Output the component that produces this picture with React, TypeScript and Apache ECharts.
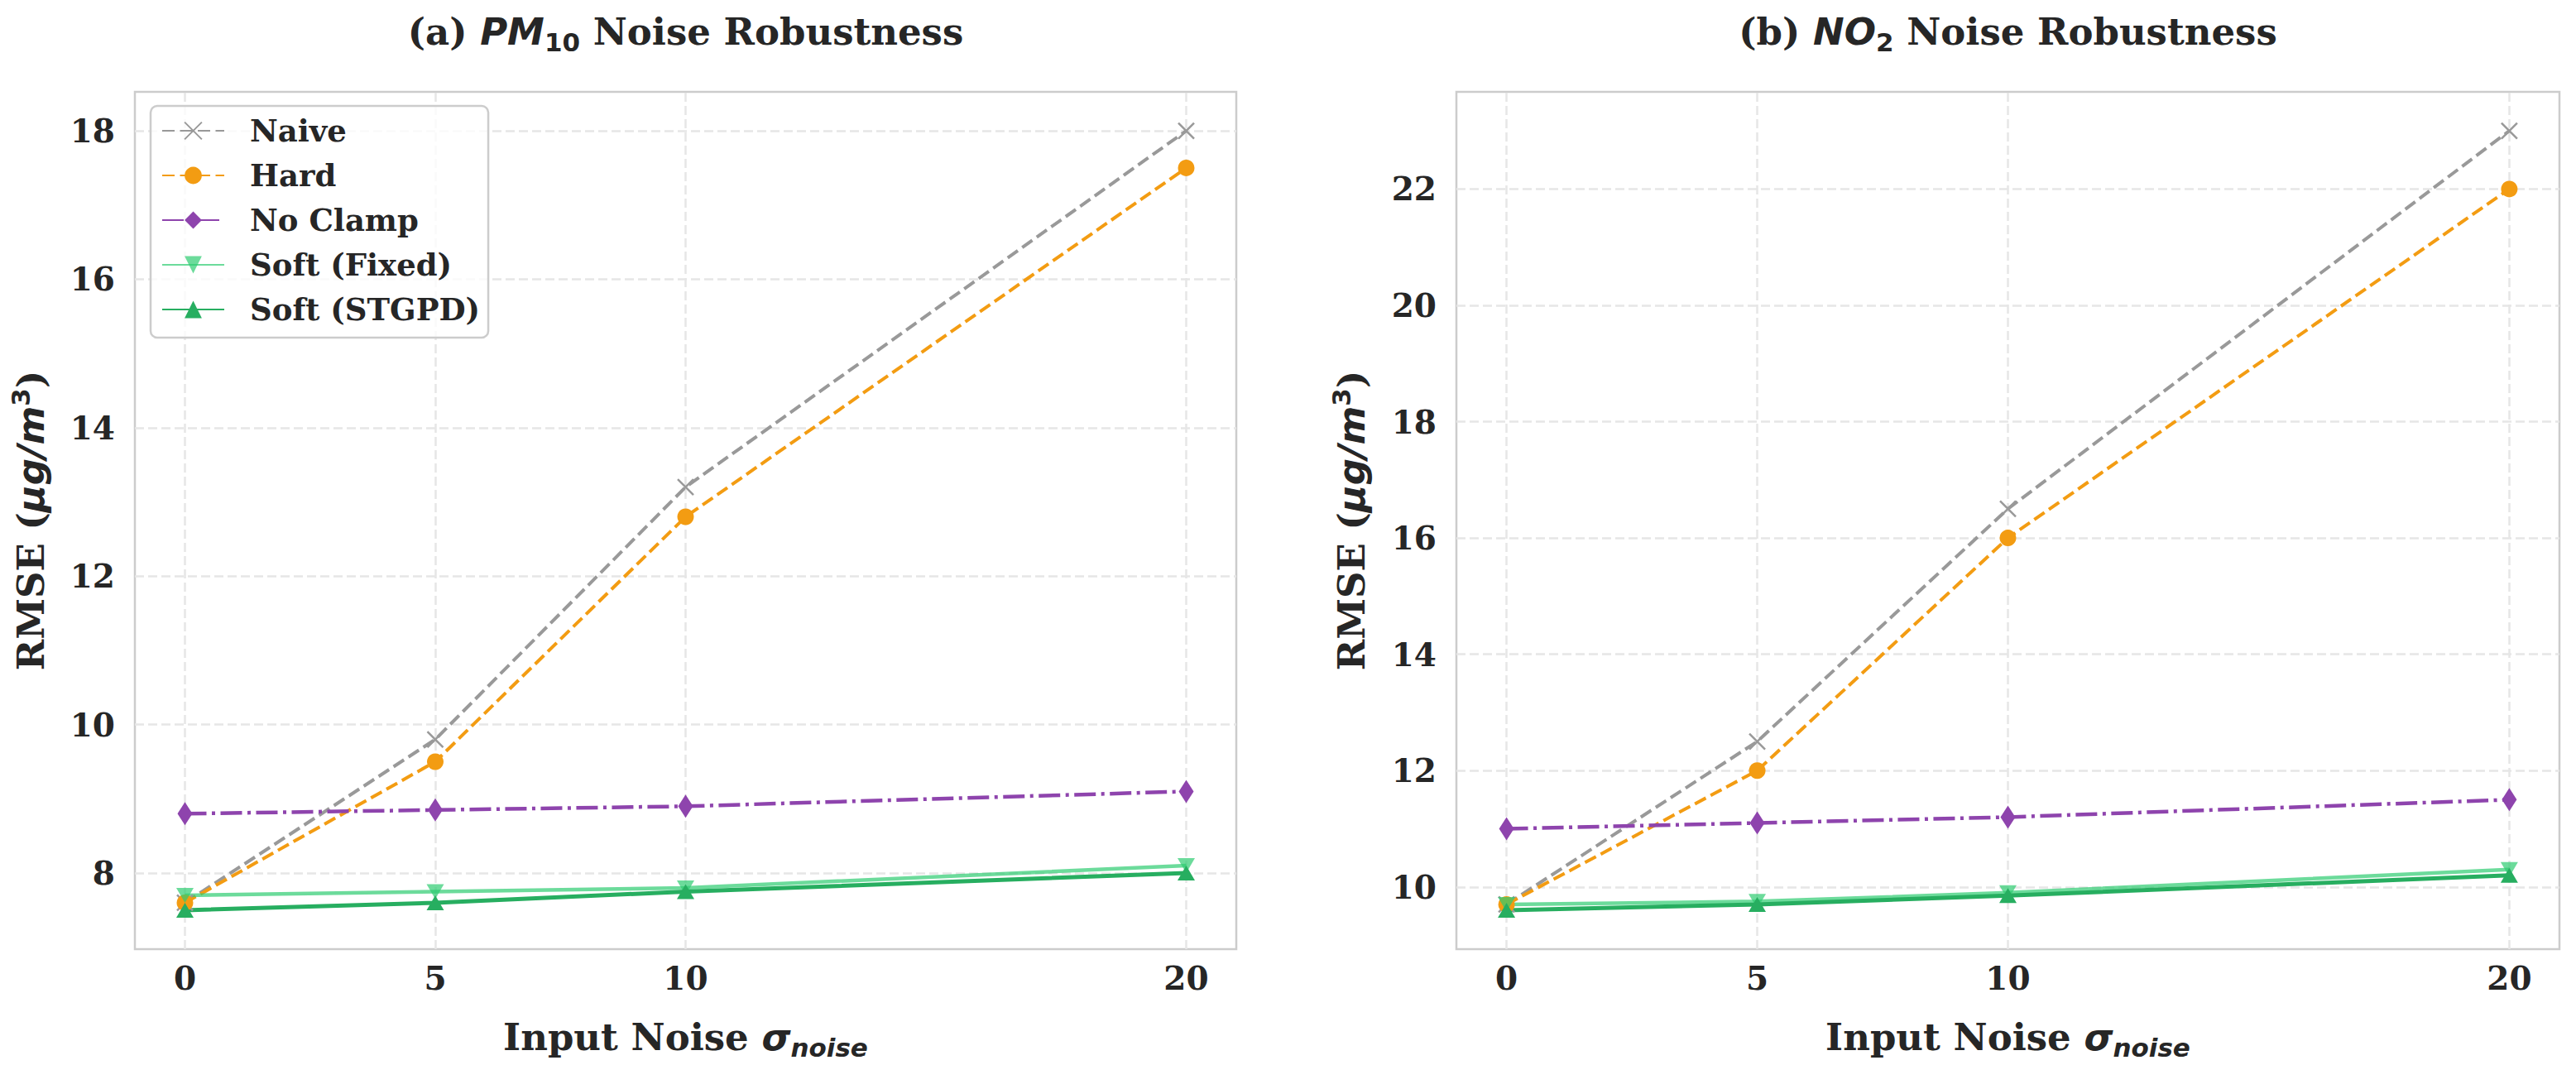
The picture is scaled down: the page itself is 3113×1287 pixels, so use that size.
import React, { useEffect, useRef } from 'react';
import * as echarts from 'echarts';

// ---------------- data ----------------
const noiseLevels = [0, 5, 10, 20];
const xTickValues = [0, 5, 10, 20];

const seriesNames = ['Naive', 'Hard', 'No Clamp', 'Soft (Fixed)', 'Soft (STGPD)'];

const pmNaive = [7.6, 9.8, 13.2, 18.0];
const pmHard = [7.6, 9.5, 12.8, 17.5];
const pmNoClamp = [8.8, 8.85, 8.9, 9.1];
const pmSoftFixed = [7.7, 7.75, 7.8, 8.1];
const pmSoftStgpd = [7.5, 7.6, 7.75, 8.0];
const pmYTicks = [8, 10, 12, 14, 16, 18];

const no2Naive = [9.7, 12.5, 16.5, 23.0];
const no2Hard = [9.7, 12.0, 16.0, 22.0];
const no2NoClamp = [11.0, 11.1, 11.2, 11.5];
const no2SoftFixed = [9.7, 9.75, 9.9, 10.3];
const no2SoftStgpd = [9.6, 9.7, 9.85, 10.2];
const no2YTicks = [10, 12, 14, 16, 18, 20, 22];

// ---------------- styles ----------------
const TEXT = '#262626';
const GRIDLINE = '#e6e6e6';
const SERIF = 'DejaVu Serif';
const SANS = 'DejaVu Sans';

const seriesStyles = [
  { color: '#999999', dash: [15, 6.5], width: 4, symbol: 'path://M0,0L10,10M10,0L0,10', size: 19, rotate: 0, opacity: 1, stroke: true },
  { color: '#f39c12', dash: [15, 6.5], width: 4, symbol: 'circle', size: 20, rotate: 0, opacity: 1, stroke: false },
  { color: '#8e44ad', dash: [26, 6.5, 4, 6.5], width: 4.5, symbol: 'diamond', size: [18, 28], rotate: 0, opacity: 1, stroke: false },
  { color: '#2ecc71', dash: 'solid', width: 4.5, symbol: 'triangle', size: [21, 18], rotate: 180, opacity: 0.7, stroke: false },
  { color: '#27ae60', dash: 'solid', width: 5, symbol: 'triangle', size: [21, 18], rotate: 0, opacity: 1, stroke: false },
];

function padRange(arrays: number[][]): [number, number] {
  const all = arrays.flat();
  const mn = Math.min(...all);
  const mx = Math.max(...all);
  const r = mx - mn;
  return [mn - 0.05 * r, mx + 0.05 * r];
}

function buildSeries(gridIndex: number, valueSets: number[][]) {
  return valueSets.map((vals, k) => {
    const st = seriesStyles[k];
    return {
      type: 'line',
      name: seriesNames[k],
      xAxisIndex: gridIndex,
      yAxisIndex: gridIndex,
      data: noiseLevels.map((x, i) => [x, vals[i]]),
      symbol: st.symbol,
      symbolSize: st.size,
      symbolRotate: st.rotate,
      showSymbol: true,
      z: 3,
      lineStyle: { color: st.color, width: st.width, type: st.dash, opacity: st.opacity, cap: 'butt' },
      itemStyle: st.stroke
        ? { color: st.color, borderColor: st.color, borderWidth: 2.5, opacity: st.opacity }
        : { color: st.color, borderWidth: 0, opacity: st.opacity },
      emphasis: { disabled: true },
      silent: true,
    };
  });
}

function gridLineSeries(gridIndex: number, yTicks: number[]) {
  return {
    type: 'line',
    name: 'grid' + gridIndex,
    xAxisIndex: gridIndex,
    yAxisIndex: gridIndex,
    data: [],
    z: 1,
    silent: true,
    markLine: {
      silent: true,
      z: 1,
      symbol: ['none', 'none'],
      label: { show: false },
      emphasis: { disabled: true },
      lineStyle: { color: GRIDLINE, width: 2.5, type: [11, 5] },
      data: [
        ...xTickValues.map((v) => ({ xAxis: v })),
        ...yTicks.map((v) => ({ yAxis: v })),
      ],
    },
  };
}

const tickLabel = {
  fontSize: 39,
  fontFamily: SERIF,
  fontWeight: 'bold',
  color: TEXT,
};

function makeXAxis(gridIndex: number) {
  return {
    type: 'value',
    gridIndex,
    min: -1,
    max: 21,
    axisLine: { show: false },
    axisTick: { show: false, customValues: xTickValues },
    splitLine: { show: false },
    axisLabel: { ...tickLabel, margin: 15, customValues: xTickValues },
  };
}

function makeYAxis(gridIndex: number, range: [number, number], ticks: number[]) {
  return {
    type: 'value',
    gridIndex,
    min: range[0],
    max: range[1],
    axisLine: { show: false },
    axisTick: { show: false, customValues: ticks },
    splitLine: { show: false },
    axisLabel: { ...tickLabel, margin: 24, customValues: ticks },
  };
}

const baseRich = {
  a: { fontFamily: SERIF, fontWeight: 'bold', fontSize: 45, fill: TEXT, lineHeight: 56 },
  m: { fontFamily: SANS, fontWeight: 'bold', fontStyle: 'italic', fontSize: 45, fill: TEXT, lineHeight: 56 },
  s: { fontFamily: SANS, fontWeight: 'bold', fontSize: 31, fill: TEXT, lineHeight: 36, verticalAlign: 'bottom' },
  si: { fontFamily: SANS, fontWeight: 'bold', fontStyle: 'italic', fontSize: 31, fill: TEXT, lineHeight: 36, verticalAlign: 'bottom' },
  p: { fontFamily: SANS, fontWeight: 'bold', fontSize: 31, fill: TEXT, lineHeight: 30, verticalAlign: 'top' },
};

function richText(text: string, x: number, y: number, rotation = 0) {
  return {
    type: 'text',
    x,
    y,
    rotation,
    silent: true,
    style: {
      text,
      rich: baseRich,
      align: 'center',
      verticalAlign: 'middle',
      fill: TEXT,
    },
  };
}

const GRID_TOP = 111;
const GRID_H = 1036;
const LEFT_GRID = { left: 163, width: 1331 };
const RIGHT_GRID = { left: 1760, width: 1333 };

export default function App() {
  const ref = useRef<HTMLDivElement>(null);

  useEffect(() => {
    if (!ref.current) return;
    const chart = echarts.init(ref.current, null, { renderer: 'svg', width: 3113, height: 1287 });

    const pmSets = [pmNaive, pmHard, pmNoClamp, pmSoftFixed, pmSoftStgpd];
    const no2Sets = [no2Naive, no2Hard, no2NoClamp, no2SoftFixed, no2SoftStgpd];

    const option = {
      animation: false,
      backgroundColor: '#ffffff',
      grid: [
        {
          left: LEFT_GRID.left, top: GRID_TOP, width: LEFT_GRID.width, height: GRID_H,
          show: true, borderColor: '#cccccc', borderWidth: 2.5, backgroundColor: 'transparent',
          containLabel: false, outerBoundsMode: 'none',
        },
        {
          left: RIGHT_GRID.left, top: GRID_TOP, width: RIGHT_GRID.width, height: GRID_H,
          show: true, borderColor: '#cccccc', borderWidth: 2.5, backgroundColor: 'transparent',
          containLabel: false, outerBoundsMode: 'none',
        },
      ],
      xAxis: [makeXAxis(0), makeXAxis(1)],
      yAxis: [
        makeYAxis(0, padRange(pmSets), pmYTicks),
        makeYAxis(1, padRange(no2Sets), no2YTicks),
      ],
      legend: {
        data: seriesNames,
        orient: 'vertical',
        left: 182,
        top: 128,
        itemWidth: 75,
        itemHeight: 26,
        itemGap: 10,
        padding: [8, 10, 12, 13],
        selectedMode: false,
        backgroundColor: 'rgba(255,255,255,0.8)',
        borderColor: '#cccccc',
        borderWidth: 2.5,
        borderRadius: 8,
        textStyle: {
          fontSize: 37,
          fontFamily: SERIF,
          fontWeight: 'bold',
          color: TEXT,
          lineHeight: 44,
          padding: [0, 0, 0, 26],
        },
      },
      graphic: [
        richText('{a|(a) }{m|PM}{s|10}{a| Noise Robustness}', LEFT_GRID.left + LEFT_GRID.width / 2, 38),
        richText('{a|(b) }{m|NO}{s|2}{a| Noise Robustness}', RIGHT_GRID.left + RIGHT_GRID.width / 2, 38),
        richText('{a|Input Noise }{m|σ}{si|noise}', LEFT_GRID.left + LEFT_GRID.width / 2, 1253),
        richText('{a|Input Noise }{m|σ}{si|noise}', RIGHT_GRID.left + RIGHT_GRID.width / 2, 1253),
        richText('{a|RMSE (}{m|μg/m}{p|3}{a|)}', 37, GRID_TOP + GRID_H / 2, Math.PI / 2),
        richText('{a|RMSE (}{m|μg/m}{p|3}{a|)}', 1633, GRID_TOP + GRID_H / 2, Math.PI / 2),
      ],
      series: [
        gridLineSeries(0, pmYTicks),
        gridLineSeries(1, no2YTicks),
        ...buildSeries(0, pmSets),
        ...buildSeries(1, no2Sets),
      ],
    };

    chart.setOption(option as any);
    return () => chart.dispose();
  }, []);

  return (
    <div
      ref={ref}
      style={{ position: 'fixed', left: 0, top: 0, width: 3113, height: 1287, background: '#ffffff' }}
    />
  );
}
